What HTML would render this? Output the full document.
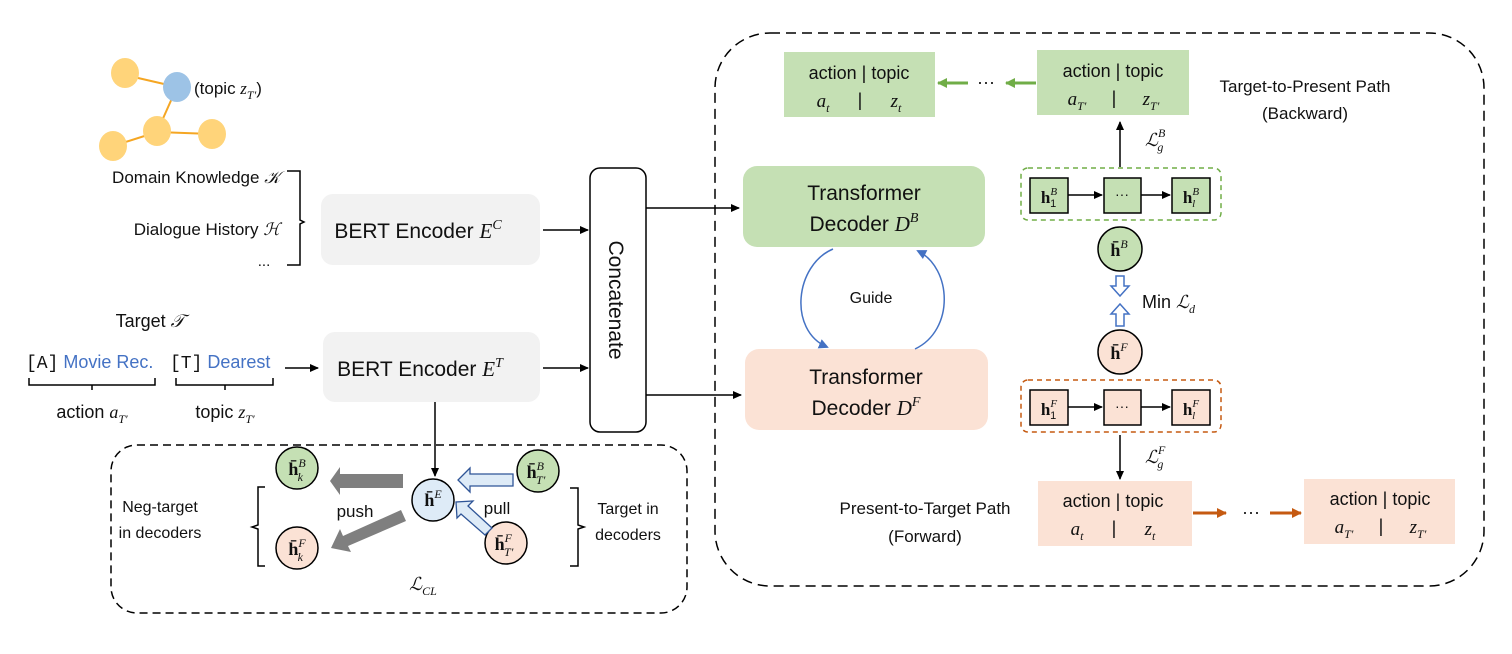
<!DOCTYPE html>
<html><head><meta charset="utf-8"><style>
html,body{margin:0;padding:0;background:#fff;}
svg{display:block;}
text{font-family:"Liberation Sans",sans-serif;fill:#111;}
.m{font-family:"Liberation Serif",serif;font-style:italic;}
.b{font-family:"Liberation Serif",serif;font-weight:bold;}
</style></head><body>
<svg width="1512" height="654" viewBox="0 0 1512 654" xmlns="http://www.w3.org/2000/svg">
<defs>
<marker id="ab" markerWidth="10" markerHeight="10" refX="8" refY="5" orient="auto" markerUnits="userSpaceOnUse"><path d="M0,1 L9,5 L0,9 z" fill="#000"/></marker>
<marker id="ag" markerWidth="12" markerHeight="12" refX="9" refY="6" orient="auto" markerUnits="userSpaceOnUse"><path d="M0,1 L10,6 L0,11 z" fill="#70ad47"/></marker>
<marker id="ao" markerWidth="12" markerHeight="12" refX="9" refY="6" orient="auto" markerUnits="userSpaceOnUse"><path d="M0,1 L10,6 L0,11 z" fill="#c55a11"/></marker>
<marker id="abl" markerWidth="12" markerHeight="12" refX="8" refY="6" orient="auto" markerUnits="userSpaceOnUse"><path d="M0,1 L10,6 L0,11 z" fill="#4472c4"/></marker>
</defs>

<!-- knowledge graph -->
<g stroke="#f5a623" stroke-width="2">
<line x1="125" y1="75" x2="177" y2="87"/><line x1="177" y1="87" x2="157" y2="132"/>
<line x1="157" y1="132" x2="113" y2="146"/><line x1="157" y1="132" x2="212" y2="134"/>
</g>
<ellipse cx="125" cy="73" rx="14" ry="15" fill="#ffd47a"/>
<ellipse cx="177" cy="87" rx="14" ry="15" fill="#9dc3e6"/>
<ellipse cx="157" cy="131" rx="14" ry="15" fill="#ffd47a"/>
<ellipse cx="113" cy="146" rx="14" ry="15" fill="#ffd47a"/>
<ellipse cx="212" cy="134" rx="14" ry="15" fill="#ffd47a"/>
<text x="194" y="94" font-size="17">(topic <tspan class="m">z</tspan><tspan class="m" font-size="12" dy="5">T′</tspan><tspan dy="-5">)</tspan></text>

<text x="280" y="183" font-size="17" text-anchor="end">Domain Knowledge <tspan class="m">𝒦</tspan></text>
<text x="280" y="235" font-size="17" text-anchor="end">Dialogue History <tspan class="m">ℋ</tspan></text>
<text x="264" y="266" font-size="15" text-anchor="middle">...</text>
<path d="M287,171 L300,171 L300,220 L304,222 L300,224 L300,265 L287,265" fill="none" stroke="#000" stroke-width="1.5"/>

<rect x="321" y="194" width="219" height="71" rx="12" fill="#f2f2f2"/>
<text x="418" y="238" font-size="21" text-anchor="middle">BERT Encoder <tspan class="m">E</tspan><tspan class="m" font-size="14" dy="-9">C</tspan></text>
<rect x="323" y="332" width="217" height="70" rx="12" fill="#f2f2f2"/>
<text x="420" y="376" font-size="21" text-anchor="middle">BERT Encoder <tspan class="m">E</tspan><tspan class="m" font-size="14" dy="-9">T</tspan></text>
<line x1="543" y1="230" x2="588" y2="230" stroke="#000" stroke-width="1.5" marker-end="url(#ab)"/>
<line x1="543" y1="368" x2="588" y2="368" stroke="#000" stroke-width="1.5" marker-end="url(#ab)"/>

<rect x="590" y="168" width="56" height="264" rx="10" fill="#fff" stroke="#000" stroke-width="1.5"/>
<text transform="translate(609,300) rotate(90)" font-size="21" text-anchor="middle">Concatenate</text>
<line x1="646" y1="208" x2="739" y2="208" stroke="#000" stroke-width="1.5" marker-end="url(#ab)"/>
<line x1="646" y1="395" x2="741" y2="395" stroke="#000" stroke-width="1.5" marker-end="url(#ab)"/>

<!-- target -->
<text x="150" y="327" font-size="18" text-anchor="middle">Target <tspan class="m">𝒯</tspan></text>
<text x="26" y="368" font-size="18"><tspan font-family="Liberation Mono">[A]</tspan><tspan style="fill:#4472c4"> Movie Rec.</tspan></text>
<text x="170" y="368" font-size="18"><tspan font-family="Liberation Mono">[T]</tspan><tspan style="fill:#4472c4"> Dearest</tspan></text>
<line x1="285" y1="368" x2="318" y2="368" stroke="#000" stroke-width="1.5" marker-end="url(#ab)"/>
<path d="M29,378 L29,385 L155,385 L155,378 M92,385 L92,390" fill="none" stroke="#000" stroke-width="1.5"/>
<path d="M176,378 L176,385 L273,385 L273,378 M225,385 L225,390" fill="none" stroke="#000" stroke-width="1.5"/>
<text x="92" y="418" font-size="18" text-anchor="middle">action <tspan class="m">a</tspan><tspan class="m" font-size="12" dy="5">T′</tspan></text>
<text x="225" y="418" font-size="18" text-anchor="middle">topic <tspan class="m">z</tspan><tspan class="m" font-size="12" dy="5">T′</tspan></text>

<!-- bottom CL box -->
<rect x="111" y="445" width="576" height="168" rx="26" fill="none" stroke="#000" stroke-width="1.5" stroke-dasharray="8,5"/>
<line x1="435" y1="402" x2="435" y2="476" stroke="#000" stroke-width="1.5" marker-end="url(#ab)"/>
<g stroke="#000" stroke-width="1.5">
<circle cx="433" cy="500" r="21" fill="#deebf7"/>
<circle cx="297" cy="468" r="21" fill="#c5e0b4"/>
<circle cx="297" cy="548" r="21" fill="#fbe2d5"/>
<circle cx="538" cy="471" r="21" fill="#c5e0b4"/>
<circle cx="506" cy="543" r="21" fill="#fbe2d5"/>
</g>
<text x="433" y="506" font-size="18" text-anchor="middle"><tspan class="b">h̄</tspan><tspan class="m" font-size="12" dy="-8">E</tspan></text>
<text x="297" y="475" font-size="18" text-anchor="middle"><tspan class="b">h̄</tspan><tspan class="m" font-size="12" dy="-8">B</tspan><tspan class="m" font-size="12" dx="-8" dy="14">k</tspan></text>
<text x="297" y="555" font-size="18" text-anchor="middle"><tspan class="b">h̄</tspan><tspan class="m" font-size="12" dy="-8">F</tspan><tspan class="m" font-size="12" dx="-8" dy="14">k</tspan></text>
<text x="536" y="478" font-size="18" text-anchor="middle"><tspan class="b">h̄</tspan><tspan class="m" font-size="12" dy="-8">B</tspan><tspan class="m" font-size="12" dx="-8" dy="14">T′</tspan></text>
<text x="504" y="550" font-size="18" text-anchor="middle"><tspan class="b">h̄</tspan><tspan class="m" font-size="12" dy="-8">F</tspan><tspan class="m" font-size="12" dx="-8" dy="14">T′</tspan></text>
<path d="M403,474 L340,474 L340,467 L330,481 L340,495 L340,488 L403,488 z" fill="#7f7f7f"/>
<path d="M401,510 L343,536 L340,529 L331,548 L351,552 L348,546 L406,521 z" fill="#7f7f7f"/>
<path d="M513,474 L470,474 L470,468 L458,480 L470,492 L470,486 L513,486 z" fill="#deebf7" stroke="#2f5597" stroke-width="1.3"/>
<path d="M492,528 L468,506 L473,501 L456,502 L457,518 L461,514 L485,535 z" fill="#deebf7" stroke="#2f5597" stroke-width="1.3"/>
<text x="355" y="517" font-size="17" text-anchor="middle">push</text>
<text x="497" y="514" font-size="17" text-anchor="middle">pull</text>
<text x="160" y="512" font-size="16" text-anchor="middle">Neg-target</text>
<text x="160" y="538" font-size="16" text-anchor="middle">in decoders</text>
<text x="628" y="514" font-size="16" text-anchor="middle">Target in</text>
<text x="628" y="540" font-size="16" text-anchor="middle">decoders</text>
<path d="M265,487 L258,487 L258,525 L252,527 L258,529 L258,566 L265,566" fill="none" stroke="#000" stroke-width="1.5"/>
<path d="M570,488 L578,488 L578,525 L584,527 L578,529 L578,566 L570,566" fill="none" stroke="#000" stroke-width="1.5"/>
<text x="423" y="590" font-size="18" text-anchor="middle"><tspan class="m">ℒ</tspan><tspan class="m" font-size="12" dy="5">CL</tspan></text>

<!-- right dashed region -->
<rect x="715" y="33" width="769" height="553" rx="55" fill="none" stroke="#000" stroke-width="1.5" stroke-dasharray="10,6"/>

<rect x="784" y="52" width="151" height="65" fill="#c5e0b4"/>
<text x="859" y="79" font-size="18" text-anchor="middle">action | topic</text>
<text x="823" y="107" font-size="19" class="m" text-anchor="middle">a<tspan font-size="12" dy="5">t</tspan></text>
<text x="860" y="106" font-size="18" text-anchor="middle">|</text>
<text x="896" y="107" font-size="19" class="m" text-anchor="middle">z<tspan font-size="12" dy="5">t</tspan></text>
<rect x="1037" y="50" width="152" height="65" fill="#c5e0b4"/>
<text x="1113" y="77" font-size="18" text-anchor="middle">action | topic</text>
<text x="1077" y="105" font-size="19" class="m" text-anchor="middle">a<tspan font-size="12" dy="5">T′</tspan></text>
<text x="1114" y="104" font-size="18" text-anchor="middle">|</text>
<text x="1151" y="105" font-size="19" class="m" text-anchor="middle">z<tspan font-size="12" dy="5">T′</tspan></text>
<line x1="1036" y1="83" x2="1006" y2="83" stroke="#70ad47" stroke-width="3" marker-end="url(#ag)"/>
<text x="986" y="88" font-size="18" text-anchor="middle">···</text>
<line x1="968" y1="83" x2="938" y2="83" stroke="#70ad47" stroke-width="3" marker-end="url(#ag)"/>
<text x="1305" y="92" font-size="17" text-anchor="middle">Target-to-Present Path</text>
<text x="1305" y="119" font-size="17" text-anchor="middle">(Backward)</text>

<rect x="743" y="166" width="242" height="81" rx="14" fill="#c5e0b4"/>
<text x="864" y="200" font-size="21" text-anchor="middle">Transformer</text>
<text x="864" y="231" font-size="21" text-anchor="middle">Decoder <tspan class="m">D</tspan><tspan class="m" font-size="14" dy="-9">B</tspan></text>
<rect x="745" y="349" width="243" height="81" rx="14" fill="#fbe2d5"/>
<text x="866" y="384" font-size="21" text-anchor="middle">Transformer</text>
<text x="866" y="415" font-size="21" text-anchor="middle">Decoder <tspan class="m">D</tspan><tspan class="m" font-size="14" dy="-9">F</tspan></text>
<path d="M833,249 C795,265 788,330 827,347" fill="none" stroke="#4472c4" stroke-width="1.5" marker-end="url(#abl)"/>
<path d="M915,349 C955,330 952,268 918,251" fill="none" stroke="#4472c4" stroke-width="1.5" marker-end="url(#abl)"/>
<text x="871" y="303" font-size="16" text-anchor="middle">Guide</text>

<!-- backward states -->
<rect x="1021" y="168" width="200" height="52" rx="7" fill="none" stroke="#70ad47" stroke-width="1.5" stroke-dasharray="5,4"/>
<g stroke="#000" stroke-width="1.5" fill="#c5e0b4">
<rect x="1030" y="178" width="38" height="35"/><rect x="1104" y="178" width="37" height="35"/><rect x="1172" y="178" width="38" height="35"/>
</g>
<line x1="1068" y1="195" x2="1102" y2="195" stroke="#000" stroke-width="1.5" marker-end="url(#ab)"/>
<line x1="1141" y1="195" x2="1170" y2="195" stroke="#000" stroke-width="1.5" marker-end="url(#ab)"/>
<text x="1049" y="203" font-size="17" text-anchor="middle"><tspan class="b">h</tspan><tspan class="m" font-size="11" dy="-8">B</tspan><tspan font-size="11" dx="-7" dy="12">1</tspan></text>
<text x="1122" y="199" font-size="14" text-anchor="middle">···</text>
<text x="1191" y="203" font-size="17" text-anchor="middle"><tspan class="b">h</tspan><tspan class="m" font-size="11" dy="-8">B</tspan><tspan class="m" font-size="11" dx="-7" dy="12">l</tspan></text>
<line x1="1120" y1="167" x2="1120" y2="122" stroke="#000" stroke-width="1.5" marker-end="url(#ab)"/>
<text x="1145" y="146" font-size="18" class="m">ℒ<tspan font-size="12" dy="-9">B</tspan><tspan font-size="12" dx="-8" dy="14">g</tspan></text>

<circle cx="1120" cy="249" r="22" fill="#c5e0b4" stroke="#000" stroke-width="1.5"/>
<text x="1119" y="256" font-size="18" text-anchor="middle"><tspan class="b">h̄</tspan><tspan class="m" font-size="12" dy="-8">B</tspan></text>
<path d="M1116,276 L1124,276 L1124,286 L1129,286 L1120,296 L1111,286 L1116,286 z" fill="#fff" stroke="#4472c4" stroke-width="1.5"/>
<path d="M1116,326 L1124,326 L1124,314 L1129,314 L1120,304 L1111,314 L1116,314 z" fill="#fff" stroke="#4472c4" stroke-width="1.5"/>
<text x="1142" y="308" font-size="18">Min <tspan class="m">ℒ</tspan><tspan class="m" font-size="12" dy="5">d</tspan></text>
<circle cx="1120" cy="352" r="22" fill="#fbe2d5" stroke="#000" stroke-width="1.5"/>
<text x="1119" y="359" font-size="18" text-anchor="middle"><tspan class="b">h̄</tspan><tspan class="m" font-size="12" dy="-8">F</tspan></text>

<!-- forward states -->
<rect x="1021" y="380" width="200" height="52" rx="7" fill="none" stroke="#c55a11" stroke-width="1.5" stroke-dasharray="5,4"/>
<g stroke="#000" stroke-width="1.5" fill="#fbe2d5">
<rect x="1030" y="390" width="38" height="35"/><rect x="1104" y="390" width="37" height="35"/><rect x="1172" y="390" width="38" height="35"/>
</g>
<line x1="1068" y1="407" x2="1102" y2="407" stroke="#000" stroke-width="1.5" marker-end="url(#ab)"/>
<line x1="1141" y1="407" x2="1170" y2="407" stroke="#000" stroke-width="1.5" marker-end="url(#ab)"/>
<text x="1049" y="415" font-size="17" text-anchor="middle"><tspan class="b">h</tspan><tspan class="m" font-size="11" dy="-8">F</tspan><tspan font-size="11" dx="-7" dy="12">1</tspan></text>
<text x="1122" y="411" font-size="14" text-anchor="middle">···</text>
<text x="1191" y="415" font-size="17" text-anchor="middle"><tspan class="b">h</tspan><tspan class="m" font-size="11" dy="-8">F</tspan><tspan class="m" font-size="11" dx="-7" dy="12">l</tspan></text>
<line x1="1120" y1="435" x2="1120" y2="479" stroke="#000" stroke-width="1.5" marker-end="url(#ab)"/>
<text x="1145" y="463" font-size="18" class="m">ℒ<tspan font-size="12" dy="-9">F</tspan><tspan font-size="12" dx="-8" dy="14">g</tspan></text>

<rect x="1038" y="481" width="154" height="65" fill="#fbe2d5"/>
<text x="1113" y="507" font-size="18" text-anchor="middle">action | topic</text>
<text x="1077" y="535" font-size="19" class="m" text-anchor="middle">a<tspan font-size="12" dy="5">t</tspan></text>
<text x="1114" y="534" font-size="18" text-anchor="middle">|</text>
<text x="1150" y="535" font-size="19" class="m" text-anchor="middle">z<tspan font-size="12" dy="5">t</tspan></text>
<rect x="1304" y="479" width="151" height="65" fill="#fbe2d5"/>
<text x="1380" y="505" font-size="18" text-anchor="middle">action | topic</text>
<text x="1344" y="533" font-size="19" class="m" text-anchor="middle">a<tspan font-size="12" dy="5">T′</tspan></text>
<text x="1381" y="532" font-size="18" text-anchor="middle">|</text>
<text x="1418" y="533" font-size="19" class="m" text-anchor="middle">z<tspan font-size="12" dy="5">T′</tspan></text>
<line x1="1193" y1="513" x2="1226" y2="513" stroke="#c55a11" stroke-width="3" marker-end="url(#ao)"/>
<text x="1251" y="518" font-size="18" text-anchor="middle">···</text>
<line x1="1270" y1="513" x2="1301" y2="513" stroke="#c55a11" stroke-width="3" marker-end="url(#ao)"/>
<text x="925" y="514" font-size="17" text-anchor="middle">Present-to-Target Path</text>
<text x="925" y="542" font-size="17" text-anchor="middle">(Forward)</text>
</svg>
</body></html>
